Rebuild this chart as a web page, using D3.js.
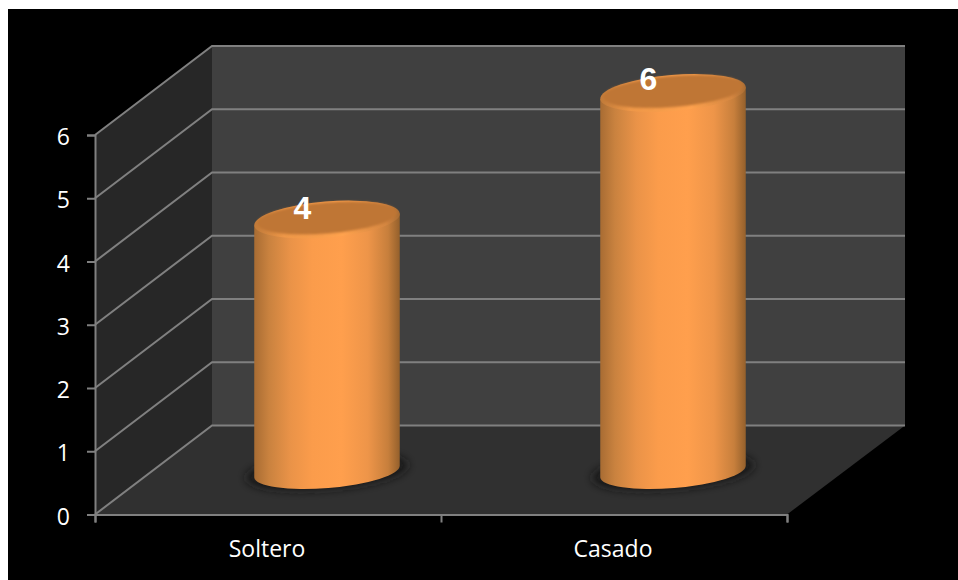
<!DOCTYPE html>
<html><head><meta charset="utf-8">
<script src="https://cdn.jsdelivr.net/npm/d3@7"></script>
<style>html,body{margin:0;padding:0;background:#fff}svg{display:block}</style>
</head><body><svg id="c" width="958" height="580"></svg>
<script>
const categories = ["Soltero", "Casado"];
const values = [4, 6];
const yTicks = [0, 1, 2, 3, 4, 5, 6];

const W = 958, H = 580;
const depthX = 117, depthY = -89;
const frontLeft = 95, frontRight = 787, frontBase = 514.5, frontTop = 135;
const barRx = 73, barRy = 18, baseRy = 16.5, tilt = -4.7;
const barOffX = 59, barOffY = -43;

const svg = d3.select("#c");
const y = d3.scaleLinear().domain([0, 6]).range([frontBase, frontTop]);
const x = d3.scaleBand().domain(categories).range([frontLeft, frontRight]);
const xEdges = d3.scalePoint().domain(d3.range(categories.length + 1)).range([frontLeft, frontRight]);

// background
svg.append("rect").attr("width", W).attr("height", H).attr("fill", "#fff");
svg.append("rect").attr("x", 8).attr("y", 9).attr("width", W - 8).attr("height", H - 9).attr("fill", "#000");

const defs = svg.append("defs");
const grad = defs.append("linearGradient").attr("id", "body");
[[0, "#a86c33"], [0.1, "#c9823f"], [0.25, "#ea9348"], [0.4, "#fb9c4b"], [0.6, "#ff9f4d"],
 [0.78, "#ee9549"], [0.92, "#c77f3c"], [1, "#94602c"]].forEach(s =>
  grad.append("stop").attr("offset", s[0]).attr("stop-color", s[1]));
const rim = defs.append("linearGradient").attr("id", "rim");
[[0, "#c07a39"], [0.2, "#ee9748"], [0.6, "#ffa24e"], [0.9, "#d48641"], [1, "#a86c33"]].forEach(s =>
  rim.append("stop").attr("offset", s[0]).attr("stop-color", s[1]));
defs.append("filter").attr("id", "blur6").attr("x", "-30%").attr("y", "-60%").attr("width", "160%").attr("height", "220%")
  .append("feGaussianBlur").attr("stdDeviation", 5);
defs.append("filter").attr("id", "blur1").append("feGaussianBlur").attr("stdDeviation", 1.3);

// walls and floor
const b = frontBase, t = frontTop, l = frontLeft, r = frontRight;
svg.append("path").attr("fill", "#404040")
  .attr("d", `M${l + depthX},${t + depthY}H${r + depthX + 1}V${b + depthY}H${l + depthX}Z`);
svg.append("path").attr("fill", "#272727")
  .attr("d", `M${l},${t}L${l + depthX},${t + depthY}V${b + depthY}L${l},${b}Z`);
svg.append("path").attr("fill", "#303030")
  .attr("d", `M${l},${b}L${l + depthX},${b + depthY}H${r + depthX + 1}L${r},${b}Z`);

// gridlines
const gridColor = "#808080";
const grid = svg.append("g").attr("fill", "none").attr("stroke", gridColor).attr("stroke-width", 2);
yTicks.forEach(v => {
  grid.append("path").attr("d", `M${l},${y(v)}L${l + depthX},${y(v) + depthY}H${r + depthX + 1}`);
});

// axes
const yAxis = svg.append("g").attr("transform", `translate(${l},0)`)
  .call(d3.axisLeft(y).tickValues(yTicks).tickFormat(d3.format("d")).tickSize(8).tickPadding(17));
const xAxis = svg.append("g").attr("transform", `translate(0,${b})`)
  .call(d3.axisBottom(x).tickSize(0).tickPadding(26));
const xTickAxis = svg.append("g").attr("transform", `translate(0,${b})`)
  .call(d3.axisBottom(xEdges).tickSize(8).tickFormat(""));
[yAxis, xAxis, xTickAxis].forEach(g => {
  g.selectAll("path.domain").attr("stroke", gridColor).attr("stroke-width", 2);
  g.selectAll("line").attr("stroke", gridColor).attr("stroke-width", 2);
  g.selectAll("text").attr("fill", "#fff").attr("font-family", "'Open Sans', sans-serif").attr("font-size", 23);
});
xAxis.select("path.domain").remove();
xAxis.selectAll("text").attr("dx", -1);
yAxis.selectAll("text").attr("dy", "0.42em");

// cylinders
const rad = tilt * Math.PI / 180;
const ex = barRx * Math.cos(rad), ey = barRx * Math.sin(rad);
const bars = svg.append("g").selectAll("g").data(categories.map((c, i) => ({c, v: values[i]}))).join("g");
const cx = d => x(d.c) + x.bandwidth() / 2 + barOffX;
const base = () => y(0) + barOffY;
const top_ = d => y(d.v) + barOffY;
const ell = (sel, dy, rx, ry) => sel
  .attr("transform", d => `translate(${cx(d)},${top_(d) + dy}) rotate(${tilt})`)
  .attr("rx", rx).attr("ry", ry);

bars.append("ellipse").attr("fill", "#151515").attr("filter", "url(#blur6)")
  .attr("transform", d => `translate(${cx(d)},${base()}) rotate(${tilt})`)
  .attr("rx", barRx + 8).attr("ry", baseRy + 1);
bars.append("path").attr("fill", "url(#body)")
  .attr("d", d => `M${cx(d) - ex},${top_(d) + 1 - ey}L${cx(d) - ex},${base() - ey}` +
    `A${barRx},${baseRy} ${tilt} 0 0 ${cx(d) + ex},${base() + ey}L${cx(d) + ex},${top_(d) + 1 + ey}Z`);
bars.append("ellipse").attr("fill", "url(#rim)").call(ell, 1, barRx, barRy);
bars.append("ellipse").attr("fill", "#bf7635").attr("filter", "url(#blur1)").call(ell, -0.5, barRx - 3, barRy - 2.5);

// value labels
bars.append("text").text(d => d.v)
  .attr("x", d => cx(d) - 24.5).attr("y", d => top_(d) - (d.v === 6 ? 2 : 0))
  .attr("text-anchor", "middle").attr("fill", "#fff")
  .attr("font-family", "'Liberation Sans', Arial, sans-serif").attr("font-weight", "bold").attr("font-size", 32);
</script></body></html>
